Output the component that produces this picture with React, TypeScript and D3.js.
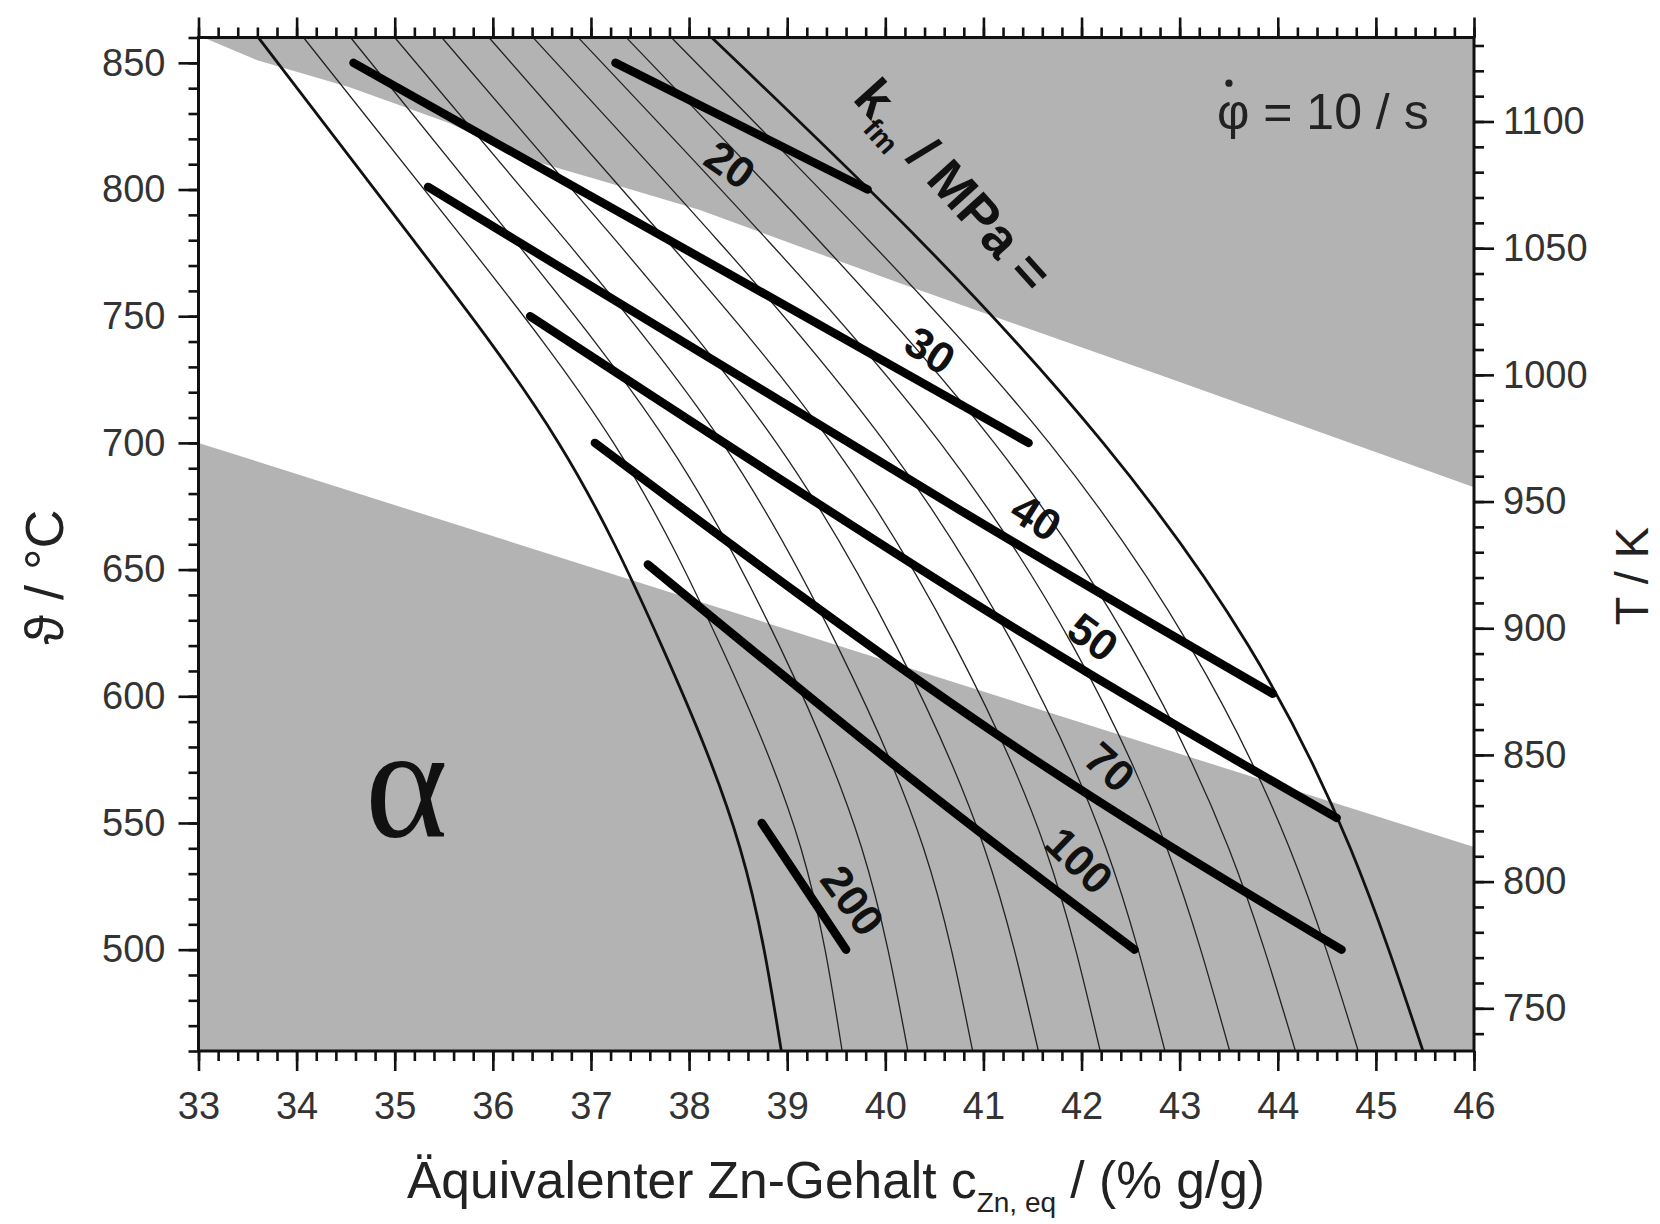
import { useEffect, useRef } from 'react';
import * as d3 from 'd3';

const WIDTH = 1660;
const HEIGHT = 1224;
const FONT = '"Liberation Sans", Arial, Helvetica, sans-serif';

// Axis ticks
const xTickValues = [33, 34, 35, 36, 37, 38, 39, 40, 41, 42, 43, 44, 45, 46];
const celsiusTickValues = [500, 550, 600, 650, 700, 750, 800, 850];
const kelvinTickValues = [750, 800, 850, 900, 950, 1000, 1050, 1100];

// Grey fields, [c_Zn, °C]
const upperFieldEdge = [
  [33.05, 860], [33.6, 851], [34.54, 840.4], [35.56, 826.2], [36.31, 812.4],
  [37.09, 803.7], [38.11, 791.9], [40.15, 763.0], [42.8, 726.8], [46, 682.5],
];
const lowerFieldEdge = [[33, 700], [46, 540.5]];

// Curve family, c_Zn read at these temperatures
const curveTemps = [860, 780, 700, 620, 540, 460];
const limitLeft = [33.61, 35.19, 36.67, 37.72, 38.52, 38.94];
const limitRight = [38.23, 40.35, 42.22, 43.7, 44.74, 45.48];
const innerCurves = [
  [34.07, 35.71, 37.23, 38.32, 39.14, 39.56],
  [34.55, 36.22, 37.78, 38.92, 39.76, 40.23],
  [35.0, 36.74, 38.34, 39.51, 40.39, 40.89],
  [35.48, 37.25, 38.89, 40.11, 41.01, 41.56],
  [35.96, 37.77, 39.45, 40.71, 41.63, 42.19],
  [36.41, 38.29, 40.0, 41.31, 42.25, 42.85],
  [36.87, 38.8, 40.56, 41.91, 42.87, 43.51],
  [37.36, 39.32, 41.11, 42.5, 43.5, 44.18],
  [37.82, 39.83, 41.67, 43.1, 44.12, 44.82],
];

// k_fm iso lines (MPa), [c_Zn, °C]
const kfmValues = ['20', '30', '40', '50', '70', '100', '200'];
const kfmLines = [
  [[37.25, 850], [39.82, 800]],
  [[34.58, 850], [38.11, 773.2], [41.46, 700]],
  [[35.34, 801], [40.76, 673.5], [43.95, 601]],
  [[36.38, 750], [41.07, 632.8], [44.6, 552]],
  [[37.04, 700], [41.07, 586.7], [44.65, 500]],
  [[37.58, 652], [40.28, 567], [42.54, 500]],
  [[38.74, 550], [39.6, 500]],
];

// label placement for each iso line
const kfmLabels = [
  { c: 38.42, t: 810, angle: 35 },
  { c: 40.46, t: 736.7, angle: 33 },
  { c: 41.54, t: 670.8, angle: 32 },
  { c: 42.12, t: 623.5, angle: 36 },
  { c: 42.29, t: 572.2, angle: 42 },
  { c: 41.98, t: 535.3, angle: 44 },
  { c: 39.67, t: 519.5, angle: 54 },
];

export default function App() {
  const axisRef = useRef<SVGGElement>(null);

  const x = d3.scaleLinear().domain([33, 46]).range([198.5, 1474]);
  const y = d3.scaleLinear().domain([460, 860]).range([1051, 37.5]);
  const yK = d3.scaleLinear().domain([460 + 273.15, 860 + 273.15]).range([1051, 37.5]);

  useEffect(() => {
    if (!axisRef.current) return;
    const g = d3.select(axisRef.current);
    g.selectAll('*').remove();

    const xMinor = d3.range(33, 46.001, 0.2);
    const cMinor = d3.range(460, 860.001, 10);
    const kMinor = d3.range(740, 1130.001, 10);

    const addAxis = (axis: any, transform: string) => {
      const a = g.append('g').attr('transform', transform).call(axis);
      a.select('.domain').remove();
      a.selectAll('.tick line').attr('stroke', '#111').attr('stroke-width', 2.6);
      a.selectAll('text')
        .attr('font-family', FONT)
        .attr('font-size', 38)
        .attr('fill', '#333');
      return a;
    };

    const bottom = `translate(0,${y.range()[0]})`;
    const top = `translate(0,${y.range()[1]})`;
    const left = `translate(${x.range()[0]},0)`;
    const right = `translate(${x.range()[1]},0)`;

    // bottom
    addAxis(d3.axisBottom(x).tickValues(xMinor).tickSize(10).tickFormat(() => ''), bottom);
    addAxis(d3.axisBottom(x).tickValues(xTickValues).tickSize(20).tickPadding(21).tickFormat(d3.format('d')), bottom);
    // top
    addAxis(d3.axisTop(x).tickValues(xMinor).tickSize(10).tickFormat(() => ''), top);
    addAxis(d3.axisTop(x).tickValues(xTickValues).tickSize(20).tickFormat(() => ''), top);
    // left (°C)
    addAxis(d3.axisLeft(y).tickValues(cMinor).tickSize(10).tickFormat(() => ''), left);
    addAxis(d3.axisLeft(y).tickValues(celsiusTickValues).tickSize(20).tickPadding(13).tickFormat(d3.format('d')), left);
    // right (K)
    addAxis(d3.axisRight(yK).tickValues(kMinor).tickSize(10).tickFormat(() => ''), right);
    addAxis(d3.axisRight(yK).tickValues(kelvinTickValues).tickSize(20).tickPadding(9).tickFormat(d3.format('d')), right);
  }, []);

  const [px0, px1] = x.range();
  const [pyBottom, pyTop] = y.range();

  const poly = d3.line<number[]>().x(d => x(d[0])).y(d => y(d[1]));
  const upperField = poly([...upperFieldEdge, [46, 860]]) + 'Z';
  const lowerField = poly([...lowerFieldEdge, [46, 460], [33, 460]]) + 'Z';

  const familyLine = d3.line<number>()
    .x(d => x(d))
    .y((_, i) => y(curveTemps[i]))
    .curve(d3.curveNatural);

  const kLine = d3.line<number[]>()
    .x(d => x(d[0]))
    .y(d => y(d[1]))
    .curve(d3.curveNatural);

  const rateX = x(43.38);
  const rateY = y(823.8);

  return (
    <svg
      width={WIDTH}
      height={HEIGHT}
      style={{ position: 'absolute', left: 0, top: 0, background: '#fff' }}
      fontFamily={FONT}
    >
      <defs>
        <clipPath id="plot-clip">
          <rect x={px0} y={pyTop} width={px1 - px0} height={pyBottom - pyTop} />
        </clipPath>
      </defs>

      <g clipPath="url(#plot-clip)">
        <path d={upperField} fill="#b3b3b3" />
        <path d={lowerField} fill="#b3b3b3" />

        {innerCurves.map((c, i) => (
          <path key={i} d={familyLine(c) || ''} fill="none" stroke="#222" strokeWidth={1.3} />
        ))}
        <path d={familyLine(limitLeft) || ''} fill="none" stroke="#111" strokeWidth={2.8} />
        <path d={familyLine(limitRight) || ''} fill="none" stroke="#111" strokeWidth={2.8} />

        {kfmLines.map((pts, i) => (
          <path
            key={kfmValues[i]}
            d={kLine(pts) || ''}
            fill="none"
            stroke="#000"
            strokeWidth={8.5}
            strokeLinecap="round"
          />
        ))}
      </g>

      {kfmLabels.map((l, i) => (
        <text
          key={kfmValues[i]}
          transform={`translate(${x(l.c)},${y(l.t)}) rotate(${l.angle})`}
          textAnchor="middle"
          dy="0.36em"
          fontSize={44}
          fontWeight={700}
          fill="#111"
        >
          {kfmValues[i]}
        </text>
      ))}

      <text
        transform={`translate(${x(40.7)},${y(802)}) rotate(48)`}
        textAnchor="middle"
        fontSize={53}
        fontWeight={700}
        fill="#111"
      >
        <tspan dy="0.36em">k</tspan>
        <tspan fontSize={29} dy={13}>fm</tspan>
        <tspan dy={-13}> / MPa =</tspan>
      </text>

      <text
        x={x(35.12)}
        y={y(545)}
        textAnchor="middle"
        fontFamily='"Liberation Serif", "Times New Roman", serif'
        fontSize={158}
        fill="#111"
      >
        α
      </text>

      <text x={rateX} y={rateY} fontSize={50} fill="#222">
        φ = 10 / s
      </text>
      <circle cx={rateX + 12} cy={rateY - 46} r={3.6} fill="#222" />

      <rect
        x={px0}
        y={pyTop}
        width={px1 - px0}
        height={pyBottom - pyTop}
        fill="none"
        stroke="#111"
        strokeWidth={3}
      />
      <g ref={axisRef} />

      <text x={836} y={1198} textAnchor="middle" fontSize={51.5} fill="#222">
        Äquivalenter Zn-Gehalt c
        <tspan fontSize={28} dy={14}>Zn, eq</tspan>
        <tspan dy={-14}> / (% g/g)</tspan>
      </text>
      <text transform="translate(63,577) rotate(-90)" textAnchor="middle" fontSize={54} fill="#222">
        ϑ / °C
      </text>
      <text transform="translate(1648,576) rotate(-90)" textAnchor="middle" fontSize={47} fill="#222">
        T / K
      </text>
    </svg>
  );
}
